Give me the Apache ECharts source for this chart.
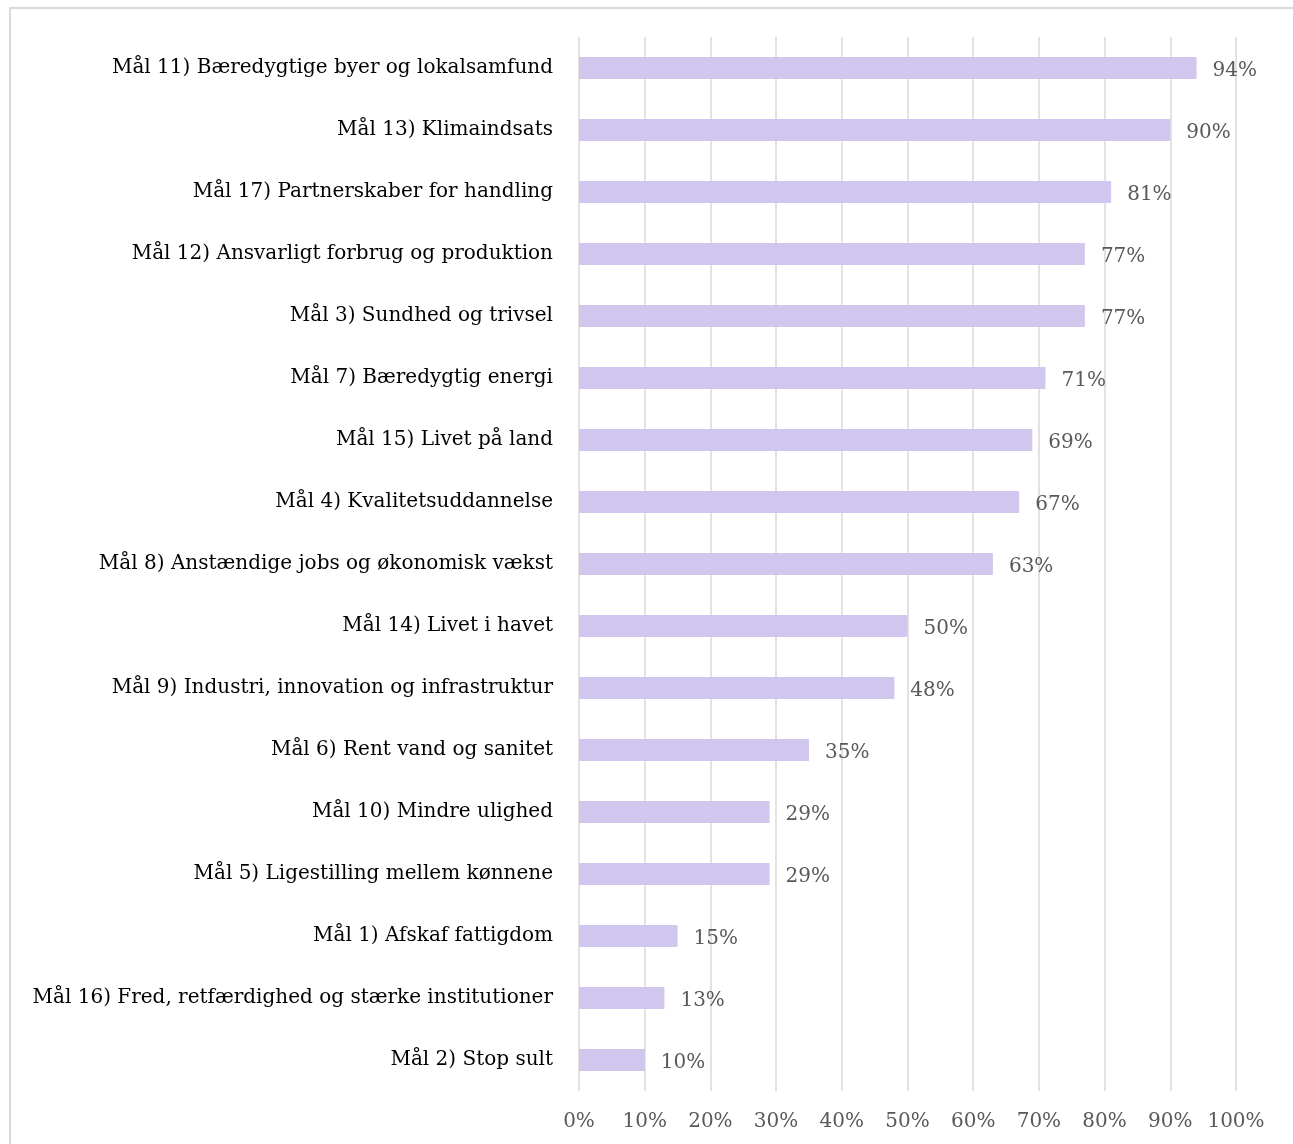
<!DOCTYPE html>
<html>
<head>
<meta charset="utf-8">
<script src="https://cdn.jsdelivr.net/npm/echarts@6/dist/echarts.min.js"></script>
<style>
html,body{margin:0;padding:0;background:#fff;overflow:hidden;}
#chart{width:1293px;height:1144px;}
</style>
</head>
<body>
<div id="chart"></div>
<script>
const categories = [
  "Mål 11) Bæredygtige byer og lokalsamfund",
  "Mål 13) Klimaindsats",
  "Mål 17) Partnerskaber for handling",
  "Mål 12) Ansvarligt forbrug og produktion",
  "Mål 3) Sundhed og trivsel",
  "Mål 7) Bæredygtig energi",
  "Mål 15) Livet på land",
  "Mål 4) Kvalitetsuddannelse",
  "Mål 8) Anstændige jobs og økonomisk vækst",
  "Mål 14) Livet i havet",
  "Mål 9) Industri, innovation og infrastruktur",
  "Mål 6) Rent vand og sanitet",
  "Mål 10) Mindre ulighed",
  "Mål 5) Ligestilling mellem kønnene",
  "Mål 1) Afskaf fattigdom",
  "Mål 16) Fred, retfærdighed og stærke institutioner",
  "Mål 2) Stop sult"
];
const values = [94, 90, 81, 77, 77, 71, 69, 67, 63, 50, 48, 35, 29, 29, 15, 13, 10];
const xTicks = [0, 10, 20, 30, 40, 50, 60, 70, 80, 90, 100];

const FONT = "'DejaVu Serif', serif";
const chart = echarts.init(document.getElementById('chart'), null, {renderer: 'canvas'});
chart.setOption({
  backgroundColor: '#fff',
  animation: false,
  graphic: [{
    type: 'rect',
    shape: {x: 10, y: 8, width: 1400, height: 1300},
    style: {fill: 'none', stroke: '#d9d9d9', lineWidth: 2},
    silent: true
  }],
  grid: {left: 579, right: 57, top: 37, bottom: 53, containLabel: false},
  xAxis: {
    type: 'value',
    min: xTicks[0],
    max: xTicks[xTicks.length - 1],
    interval: 10,
    axisLine: {show: false},
    axisTick: {show: false},
    splitLine: {show: true, lineStyle: {color: '#d9d9d9', width: 1.5}},
    axisLabel: {
      formatter: v => v + '%',
      color: '#595959',
      fontFamily: FONT,
      fontSize: 20,
      margin: 21
    }
  },
  yAxis: {
    type: 'category',
    data: categories,
    inverse: true,
    axisLine: {show: false},
    axisTick: {show: false},
    splitLine: {show: false},
    axisLabel: {
      color: '#000',
      fontFamily: FONT,
      fontSize: 20,
      margin: 26,
      padding: [4, 0, 0, 0]
    }
  },
  series: [{
    type: 'bar',
    data: values,
    barWidth: 22,
    itemStyle: {color: '#d0c6ee'},
    label: {
      show: true,
      position: 'right',
      distance: 16,
      offset: [0, 3],
      formatter: p => p.value + '%',
      color: '#595959',
      fontFamily: FONT,
      fontSize: 20
    }
  }]
});
</script>
</body>
</html>
